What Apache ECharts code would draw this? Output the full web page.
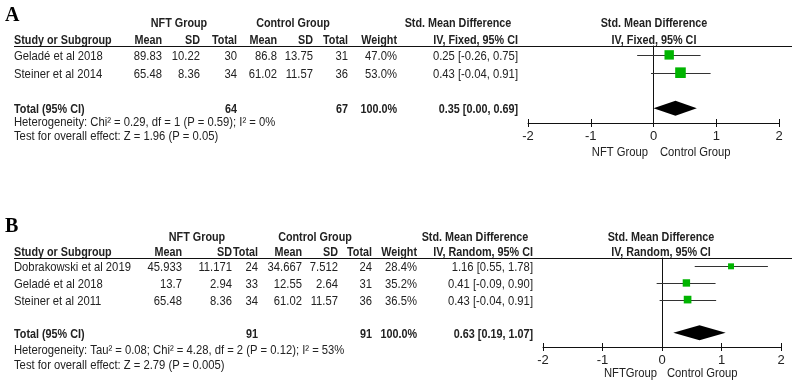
<!DOCTYPE html>
<html>
<head>
<meta charset="utf-8">
<script src="https://cdn.jsdelivr.net/npm/echarts@6/dist/echarts.min.js"></script>
<style>
  html, body { margin: 0; padding: 0; background: #fff; }
  #chart { width: 792px; height: 388px; }
</style>
</head>
<body>
<div id="chart"></div>
<script>
/* ================================================================
   Forest plots — A (fixed effect) and B (random effects)
   ================================================================ */

/* ── Panel A data ── */
const studiesA = ["Geladé et al 2018", "Steiner et al 2014"];
const nftMeanA = ["89.83", "65.48"];
const nftSdA = ["10.22", "8.36"];
const nftTotalA = [30, 34];
const ctlMeanA = ["86.8", "61.02"];
const ctlSdA = ["13.75", "11.57"];
const ctlTotalA = [31, 36];
const weightA = [47.0, 53.0];
const smdA = [0.25, 0.43];
const lowA = [-0.26, -0.04];
const highA = [0.75, 0.91];
const pooledA = [0.35, 0.00, 0.69];
const totalsA = [64, 67];
const hetA = "Heterogeneity: Chi² = 0.29, df = 1 (P = 0.59); I² = 0%";
const testA = "Test for overall effect: Z = 1.96 (P = 0.05)";

/* ── Panel B data ── */
const studiesB = ["Dobrakowski et al 2019", "Geladé et al 2018", "Steiner et al 2011"];
const nftMeanB = ["45.933", "13.7", "65.48"];
const nftSdB = ["11.171", "2.94", "8.36"];
const nftTotalB = [24, 33, 34];
const ctlMeanB = ["34.667", "12.55", "61.02"];
const ctlSdB = ["7.512", "2.64", "11.57"];
const ctlTotalB = [24, 31, 36];
const weightB = [28.4, 35.2, 36.5];
const smdB = [1.16, 0.41, 0.43];
const lowB = [0.55, -0.09, -0.04];
const highB = [1.78, 0.90, 0.91];
const pooledB = [0.63, 0.19, 1.07];
const totalsB = [91, 91];
const hetB = "Heterogeneity: Tau² = 0.08; Chi² = 4.28, df = 2 (P = 0.12); I² = 53%";
const testB = "Test for overall effect: Z = 2.79 (P = 0.005)";

const xTicks = [-2, -1, 0, 1, 2];

/* ── style ── */
const FONT = "'Liberation Sans', Arial, sans-serif";
const FS = 13;
const SX = 0.865;     // horizontal squeeze, the original uses a narrow face
const SX_BOLD = 0.83;
const INK = "#222";
const GREEN = "#00b400";

const fmtCI = (e, l, h) => `${e.toFixed(2)} [${l.toFixed(2)}, ${h.toFixed(2)}]`;

/* ── layout per panel (pixels) ── */
const panels = [
  {
    letter: "A", letterY: 16,
    grid: { left: 528, width: 251, top: 46, height: 77 },
    yMin: -0.5, yMax: 3.83,
    groupY: 23, headY: 40, footY: [122, 136], sideY: 152,
    cols: [14, 162, 200, 237, 277, 313, 348, 397, 518],
    nftCenter: 179, ctlCenter: 293, smdLeftCenter: 458, smdRightCenter: 654,
    method: "IV, Fixed, 95% CI",
    sideLabels: ["NFT Group", "Control Group"], sideX: [648, 660],
    sizeK: 0.2,
    studies: studiesA, nftMean: nftMeanA, nftSd: nftSdA, nftTotal: nftTotalA,
    ctlMean: ctlMeanA, ctlSd: ctlSdA, ctlTotal: ctlTotalA, weight: weightA,
    smd: smdA, low: lowA, high: highA, pooled: pooledA, totals: totalsA,
    het: hetA, test: testA,
  },
  {
    letter: "B", letterY: 227,
    grid: { left: 543, width: 238, top: 258, height: 89 },
    yMin: -0.5, yMax: 4.85,
    groupY: 237, headY: 252, footY: [350, 365], sideY: 373,
    cols: [14, 182, 232, 258, 302, 338, 372, 417, 533],
    nftCenter: 197, ctlCenter: 315, smdLeftCenter: 475, smdRightCenter: 661,
    method: "IV, Random, 95% CI",
    sideLabels: ["NFTGroup", "Control Group"], sideX: [657, 667],
    sizeK: 0.21,
    studies: studiesB, nftMean: nftMeanB, nftSd: nftSdB, nftTotal: nftTotalB,
    ctlMean: ctlMeanB, ctlSd: ctlSdB, ctlTotal: ctlTotalB, weight: weightB,
    smd: smdB, low: lowB, high: highB, pooled: pooledB, totals: totalsB,
    het: hetB, test: testB,
  },
];

const grids = [];
const xAxes = [];
const yAxes = [];
const series = [];
const graphics = [];

// text element anchored at (x, y), squeezed horizontally around its anchor
const txt = (text, x, y, align, bold, extra, sx) => ({
  type: "text",
  x, y,
  scaleX: sx == null ? (bold ? SX_BOLD : SX) : sx,
  style: Object.assign({
    text, x: 0, y: 0, align, verticalAlign: "middle",
    font: `${bold ? "bold " : ""}${FS}px ${FONT}`, fill: INK,
  }, extra || {}),
});

panels.forEach((p, gi) => {
  const n = p.studies.length;
  const totalRow = n + 1;

  grids.push(Object.assign({ containLabel: false }, p.grid));

  // main x axis (outer ticks + labels)
  xAxes.push({
    gridIndex: gi, type: "value", min: xTicks[0], max: xTicks[xTicks.length - 1], interval: 1,
    position: "bottom",
    axisLine: { onZero: false, lineStyle: { color: "#111", width: 1 } },
    axisTick: { length: 4, lineStyle: { color: "#111" } },
    axisLabel: { fontSize: 13, fontFamily: FONT, color: INK, margin: 7 },
    splitLine: { show: false },
  });
  // second x axis only for inner tick halves
  xAxes.push({
    gridIndex: gi, type: "value", min: xTicks[0], max: xTicks[xTicks.length - 1], interval: 1,
    position: "bottom",
    axisLine: { show: false, onZero: false },
    axisTick: { inside: true, length: 4, lineStyle: { color: "#111" } },
    axisLabel: { show: false },
    splitLine: { show: false },
  });
  yAxes.push({
    gridIndex: gi, type: "value", inverse: true, min: p.yMin, max: p.yMax,
    axisLine: { show: true, onZero: true, lineStyle: { color: "#111", width: 1 } },
    axisTick: { show: false }, axisLabel: { show: false }, splitLine: { show: false },
  });
  const xi = gi * 2;

  // table rows (studies) drawn on the shared y scale
  const rowCells = p.studies.map((s, i) => [
    s, p.nftMean[i], p.nftSd[i], String(p.nftTotal[i]), p.ctlMean[i], p.ctlSd[i],
    String(p.ctlTotal[i]), p.weight[i].toFixed(1) + "%", fmtCI(p.smd[i], p.low[i], p.high[i]),
  ]);
  const totalCells = ["Total (95% CI)", "", "", String(p.totals[0]), "", "", String(p.totals[1]),
    "100.0%", fmtCI(p.pooled[0], p.pooled[1], p.pooled[2])];

  series.push({
    type: "custom", coordinateSystem: "cartesian2d", xAxisIndex: xi, yAxisIndex: gi,
    silent: true, clip: false,
    data: rowCells.map((_, i) => [0, i]).concat([[0, totalRow]]),
    renderItem: (params, api) => {
      const y = api.coord([0, api.value(1)])[1] + 1.5;
      const isTotal = params.dataIndex === n;
      const cells = isTotal ? totalCells : rowCells[params.dataIndex];
      return {
        type: "group",
        children: cells.map((c, k) => txt(c, p.cols[k], y, k === 0 ? "left" : "right", isTotal)),
      };
    },
  });

  // CI whiskers
  series.push({
    type: "custom", coordinateSystem: "cartesian2d", xAxisIndex: xi, yAxisIndex: gi,
    silent: true, clip: false,
    data: p.smd.map((_, i) => [p.low[i], p.high[i], i]),
    renderItem: (params, api) => {
      const a = api.coord([api.value(0), api.value(2)]);
      const b = api.coord([api.value(1), api.value(2)]);
      return {
        type: "line",
        shape: { x1: a[0], y1: Math.round(a[1]) + 0.5, x2: b[0], y2: Math.round(b[1]) + 0.5 },
        style: { stroke: "#333", lineWidth: 1 },
      };
    },
  });

  // study estimates (size by weight)
  series.push({
    type: "scatter", xAxisIndex: xi, yAxisIndex: gi, silent: true,
    symbol: "rect",
    symbolSize: (v) => v[2] * p.sizeK,
    itemStyle: { color: GREEN, opacity: 1 },
    data: p.smd.map((v, i) => [v, i, p.weight[i]]),
    z: 3,
  });

  // pooled diamond
  series.push({
    type: "custom", coordinateSystem: "cartesian2d", xAxisIndex: xi, yAxisIndex: gi,
    silent: true, clip: false,
    data: [[p.pooled[0], p.pooled[1], p.pooled[2], totalRow]],
    renderItem: (params, api) => {
      const r = api.value(3);
      const c = api.coord([api.value(0), r]);
      const l = api.coord([api.value(1), r]);
      const h = api.coord([api.value(2), r]);
      const hh = 7.5;
      return {
        type: "polygon",
        shape: { points: [[l[0], c[1]], [c[0], c[1] - hh], [h[0], c[1]], [c[0], c[1] + hh]] },
        style: { fill: "#000" },
      };
    },
    z: 3,
  });

  // headers, underline, footers
  const g = p.groupY, hy = p.headY;
  graphics.push(
    txt(p.letter, 5, p.letterY, "left", true,
      { font: `bold 20px 'Liberation Serif', 'Times New Roman', serif`, fill: "#000" }, 1),
    txt("NFT Group", p.nftCenter, g, "center", true),
    txt("Control Group", p.ctlCenter, g, "center", true),
    txt("Std. Mean Difference", p.smdLeftCenter, g, "center", true),
    txt("Std. Mean Difference", p.smdRightCenter, g, "center", true),
    txt("Study or Subgroup", p.cols[0], hy, "left", true),
    txt("Mean", p.cols[1], hy, "right", true),
    txt("SD", p.cols[2], hy, "right", true),
    txt("Total", p.cols[3], hy, "right", true),
    txt("Mean", p.cols[4], hy, "right", true),
    txt("SD", p.cols[5], hy, "right", true),
    txt("Total", p.cols[6], hy, "right", true),
    txt("Weight", p.cols[7], hy, "right", true),
    txt(p.method, p.cols[8], hy, "right", true),
    txt(p.method, p.smdRightCenter, hy, "center", true),
    {
      type: "line",
      shape: { x1: 14, y1: p.grid.top + 0.5, x2: 792, y2: p.grid.top + 0.5 },
      style: { stroke: "#111", lineWidth: 1 },
    },
    txt(p.het, 14, p.footY[0], "left", false),
    txt(p.test, 14, p.footY[1], "left", false),
    txt(p.sideLabels[0], p.sideX[0], p.sideY, "right", false),
    txt(p.sideLabels[1], p.sideX[1], p.sideY, "left", false),
  );
});

const chart = echarts.init(document.getElementById("chart"), null, { renderer: "canvas" });
chart.setOption({
  backgroundColor: "#fff",
  animation: false,
  grid: grids,
  xAxis: xAxes,
  yAxis: yAxes,
  series,
  graphic: graphics,
});
</script>
</body>
</html>
